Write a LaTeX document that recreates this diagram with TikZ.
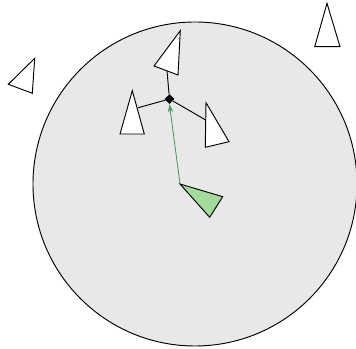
\documentclass[tikz,border=0pt]{standalone}
\usepackage{tikz}
\usetikzlibrary{shapes.geometric,arrows.meta}
\definecolor{zonefill}{HTML}{E8E8E8}
\definecolor{leadfill}{HTML}{A3DB9C}
\definecolor{leadline}{HTML}{3F9A5E}
\tikzset{
  agent/.style={draw, fill=white, line width=0.8pt, line join=miter},
  leader/.style={agent, fill=leadfill},
  hub/.style={diamond, fill=black, inner sep=0pt, minimum size=3mm},
  link/.style={line width=0.8pt},
  pull/.style={-{Stealth[length=2.4mm,width=1.6mm]}, leadline, line width=0.7pt},
}

\begin{document}
\begin{tikzpicture}[x=0.03cm, y=-0.03cm]
    \useasboundingbox (0,0) rectangle (356,349);
    \clip (0,0) rectangle (356,349);
    \fill[zonefill] (195,184) circle (4.86cm);
    \draw[line width=0.8pt] (195,184) circle (4.86cm);
    % followers
    \draw[agent] (180.3,30.7) -- (154,66) -- (178,75) -- cycle;
    \draw[agent] (132.3,90.7) -- (120,134) -- (144.3,134) -- cycle;
    \draw[agent] (206,102.7) -- (229,141.7) -- (205.3,147.3) -- cycle;
    \draw[agent] (34.7,58.3) -- (8.3,84.3) -- (32.3,93.3) -- cycle;
    \draw[agent] (327,3.3) -- (314.7,46.7) -- (340,46.7) -- cycle;
    \coordinate (top) at (167,70.7);
    \coordinate (left) at (138.3,107.7);
    \coordinate (right) at (205.6,120);
    % leader
    \draw[leader] (180,184) -- (222.7,196.7) -- (209.7,217.3) -- cycle;
    \coordinate (lead) at (180,184);
    \node[hub] (c) at (169.5,99) {};
    \draw[link] (c) -- (top);
    \draw[link] (c) -- (left);
    \draw[link] (c) -- (right);
    \draw[pull] (lead) -- (c.south);
  \end{tikzpicture}
\end{document}
